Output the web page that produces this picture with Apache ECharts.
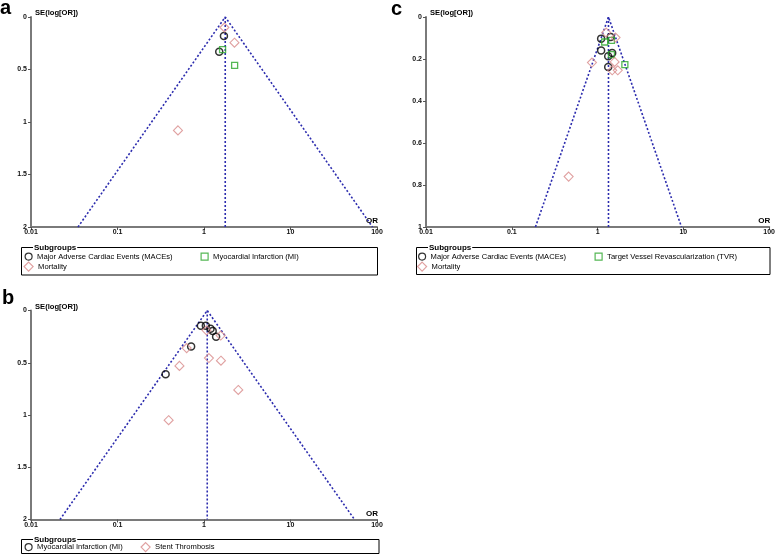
<!DOCTYPE html>
<html>
<head>
<meta charset="utf-8">
<script src="https://cdn.jsdelivr.net/npm/echarts@6/dist/echarts.min.js"></script>
<style>html,body{margin:0;padding:0;background:#fff}#c{width:778px;height:558px}</style>
</head>
<body>
<div id="c"></div>
<script>
// ---------- data ----------
var xTickLabels = ['0.01', '0.1', '1', '10', '100'];
var yTicksAB = [0, 0.5, 1, 1.5, 2];
var yTicksC = [0, 0.2, 0.4, 0.6, 0.8, 1];

// panel a
var aPooledOR = 1.76, aSeMax = 2;
var aMaceOR = [1.70, 1.50];
var aMaceSE = [0.18, 0.33];
var aMiOR = [1.64, 2.26];
var aMiSE = [0.31, 0.46];
var aMortOR = [1.72, 2.25, 0.50];
var aMortSE = [0.10, 0.245, 1.08];

// panel b
var bPooledOR = 1.09, bSeMax = 2;
var bMiOR = [0.92, 1.05, 1.19, 1.26, 1.38, 0.71, 0.36];
var bMiSE = [0.145, 0.147, 0.175, 0.195, 0.25, 0.345, 0.61];
var bStOR = [1.07, 1.56, 0.63, 1.14, 1.57, 0.52, 2.49, 0.39];
var bStSE = [0.19, 0.24, 0.36, 0.455, 0.48, 0.53, 0.76, 1.05];

// panel c
var cPooledOR = 1.34, cSeMax = 1;
var cMaceOR = [1.10, 1.42, 1.10, 1.33, 1.48, 1.33];
var cMaceSE = [0.103, 0.095, 0.159, 0.187, 0.171, 0.238];
var cTvrOR = [1.21, 1.45, 1.45, 2.08];
var cTvrSE = [0.119, 0.111, 0.179, 0.227];
var cMortOR = [1.26, 1.62, 0.86, 1.58, 1.48, 1.72, 0.46];
var cMortSE = [0.074, 0.098, 0.217, 0.214, 0.254, 0.254, 0.76];

var legendText = {
  aMace: 'Major Adverse Cardiac Events (MACEs)',
  aMi: 'Myocardial Infarction (MI)',
  aMort: 'Mortality',
  bMi: 'Myocardial Infarction (MI)',
  bSt: 'Stent Thrombosis',
  cMace: 'Major Adverse Cardiac Events (MACEs)',
  cTvr: 'Target Vessel Revascularization (TVR)',
  cMort: 'Mortality'
};

// ---------- helpers ----------
var FONT = 'Liberation Sans, Arial, sans-serif';
var FUNNEL_COLOR = '#2c2cae';
var circleStyle = { color: 'rgba(0,0,0,0)', borderColor: '#000', borderWidth: 1.5 };
var squareStyle = { color: 'rgba(0,0,0,0)', borderColor: '#2aa52a', borderWidth: 1.3 };
var diamondStyle = { color: 'rgba(0,0,0,0)', borderColor: '#d88a8a', borderWidth: 1.1 };

function zip(xs, ys) { return xs.map(function (x, i) { return [x, ys[i]]; }); }
function funnel(or, seMax) {
  return [[or * Math.exp(-1.96 * seMax), seMax], [or, 0], [or * Math.exp(1.96 * seMax), seMax]];
}
function scatter(name, idx, xs, ys, symbol, size, style) {
  return { name: name, type: 'scatter', xAxisIndex: idx, yAxisIndex: idx, data: zip(xs, ys),
    symbol: symbol, symbolSize: size, itemStyle: style, z: 5, silent: true };
}
function lines(idx, or, seMax) {
  var ls = { color: FUNNEL_COLOR, width: 1.6, type: [2, 2] };
  return [
    { type: 'line', xAxisIndex: idx, yAxisIndex: idx, data: funnel(or, seMax), symbol: 'none', lineStyle: ls, silent: true, z: 3 },
    { type: 'line', xAxisIndex: idx, yAxisIndex: idx, data: [[or, 0], [or, seMax]], symbol: 'none', lineStyle: ls, silent: true, z: 3 }
  ];
}
function xAxis(idx) {
  return {
    type: 'log', logBase: 10, gridIndex: idx, min: 0.01, max: 100, interval: 1,
    name: 'OR', nameLocation: 'end', nameGap: -11,
    nameTextStyle: { fontFamily: FONT, fontSize: 8, fontWeight: 'bold', color: '#000', verticalAlign: 'bottom', padding: [0, 0, 2, 0] },
    axisLine: { onZero: false, lineStyle: { color: '#7a7a7a', width: 2 } },
    axisTick: { show: true, length: 3, lineStyle: { color: '#555', width: 1 } },
    axisLabel: { margin: 2, fontFamily: FONT, fontSize: 7, fontWeight: 'bold', color: '#111',
      formatter: function (v) { var e = Math.round(Math.log10(v)) + 2; return xTickLabels[e] || ''; } },
    splitLine: { show: false }, minorTick: { show: false }
  };
}
function yAxis(idx, max, interval) {
  return {
    type: 'value', gridIndex: idx, inverse: true, min: 0, max: max, interval: interval,
    name: 'SE(log[OR])', nameLocation: 'start', nameGap: 0,
    nameTextStyle: { fontFamily: FONT, fontSize: 7.6, fontWeight: 'bold', color: '#000', align: 'left', padding: [0, 0, 0, 4] },
    axisLine: { show: true, lineStyle: { color: '#7a7a7a', width: 2 } },
    axisTick: { show: true, length: 3, lineStyle: { color: '#555', width: 1 } },
    axisLabel: { margin: 4, fontFamily: FONT, fontSize: 7, fontWeight: 'bold', color: '#111' },
    splitLine: { show: false }
  };
}
function legend(left, top, key, size) {
  return { left: left, top: top, padding: 0, itemWidth: size, itemHeight: size, data: [key],
    itemStyle: { borderWidth: 1.2 },
    selectedMode: false, textStyle: { fontFamily: FONT, fontSize: 7.6, color: '#000' },
    formatter: function (n) { return legendText[n]; } };
}
function box(x, y, w, h) {
  return { type: 'rect', shape: { x: x, y: y, width: w, height: h }, style: { fill: 'none', stroke: '#000', lineWidth: 1 }, z: 1 };
}
function subTitle(x, y) {
  return { type: 'text', x: x, y: y, z: 2, style: { text: 'Subgroups', fontFamily: FONT, fontSize: 8, fontWeight: 'bold', fill: '#000',
    verticalAlign: 'middle', backgroundColor: '#fff', padding: [0, 1, 0, 1] } };
}
function panelLetter(t, x, y) {
  return { type: 'text', x: x, y: y, style: { text: t, fontFamily: FONT, fontSize: 20, fontWeight: 'bold', fill: '#000', verticalAlign: 'top' } };
}

var series = [].concat(
  lines(0, aPooledOR, aSeMax),
  [scatter('aMace', 0, aMaceOR, aMaceSE, 'circle', 7, circleStyle),
   scatter('aMi', 0, aMiOR, aMiSE, 'rect', 6, squareStyle),
   scatter('aMort', 0, aMortOR, aMortSE, 'diamond', 9, diamondStyle)],
  lines(1, bPooledOR, bSeMax),
  [scatter('bMi', 1, bMiOR, bMiSE, 'circle', 7, circleStyle),
   scatter('bSt', 1, bStOR, bStSE, 'diamond', 9, diamondStyle)],
  lines(2, cPooledOR, cSeMax),
  [scatter('cMace', 2, cMaceOR, cMaceSE, 'circle', 7, circleStyle),
   scatter('cTvr', 2, cTvrOR, cTvrSE, 'rect', 6, squareStyle),
   scatter('cMort', 2, cMortOR, cMortSE, 'diamond', 9, diamondStyle)]
);

var option = {
  animation: false,
  backgroundColor: '#fff',
  grid: [
    { left: 31, top: 17, width: 346, height: 210 },
    { left: 31, top: 310.5, width: 346, height: 209 },
    { left: 426, top: 17, width: 344, height: 210 }
  ],
  xAxis: [xAxis(0), xAxis(1), xAxis(2)],
  yAxis: [yAxis(0, 2, 0.5), yAxis(1, 2, 0.5), yAxis(2, 1, 0.2)],
  legend: [
    legend(24.5, 252.5, 'aMace', 7), legend(200.5, 252.5, 'aMi', 7), legend(23.5, 261.5, 'aMort', 9),
    legend(24.5, 543, 'bMi', 7), legend(140.5, 542, 'bSt', 9),
    legend(418, 252.5, 'cMace', 7), legend(594.5, 252.5, 'cTvr', 7), legend(417, 261.5, 'cMort', 9)
  ],
  graphic: [
    box(21.5, 247.5, 356, 27.5), subTitle(33, 247.5),
    box(21.5, 539.5, 357.5, 14), subTitle(33, 539.5),
    box(416.5, 247.5, 353.5, 27), subTitle(428, 247.5),
    panelLetter('a', 0, -2), panelLetter('b', 2, 288), panelLetter('c', 391, -1)
  ],
  series: series
};

var chart = echarts.init(document.getElementById('c'), null, { renderer: 'canvas' });
chart.setOption(option);
</script>
</body>
</html>
